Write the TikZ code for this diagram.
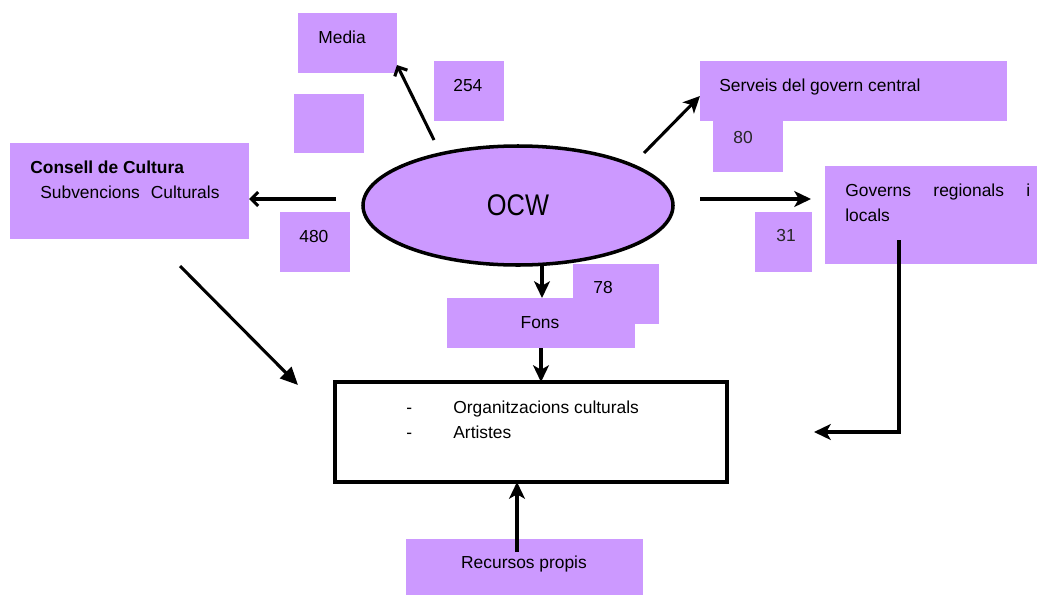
\documentclass[tikz,border=0pt]{standalone}
\usepackage{fontspec}
\setmainfont{Liberation Sans}
\usetikzlibrary{shapes.geometric,arrows.meta,calc}
\definecolor{boxc}{RGB}{204,153,255}
\newcommand\pbx[5]{\node[pbox, minimum width=#4*0.02cm, minimum height=#5*0.02cm] (#1) at (#2,#3) {};}
\begin{document}
\begin{tikzpicture}[x=0.02cm,y=-0.02cm,
  pbox/.style={fill=boxc, draw=none, inner sep=0, outer sep=0, anchor=north west},
  txt/.style={font=\fontsize{9.9}{12.5}\selectfont, inner sep=0, anchor=base west},
  numtxt/.style={txt, text=black!85},
  conn/.style={line width=1.75pt},
  tipopen/.style={-{Straight Barb[length=4pt,width=8pt]}},
  tipfill/.style={-{Stealth[length=9.5pt,width=9pt,inset=2.5pt]}},
  tiptri/.style={-{Triangle[length=10pt,width=9pt]}}]
\useasboundingbox (0,0) rectangle (1037,595);
% purple boxes
\pbx{media}{298}{13}{99}{60}
\pbx{n254}{434}{61}{70}{60}
\pbx{blank}{294}{94}{70}{59}
\pbx{consell}{10}{143}{239}{96}
\pbx{n480}{280}{212}{70}{60}
\pbx{serveis}{700}{61}{307}{60}
\pbx{n80}{713}{121}{70}{51}
\pbx{governs}{825}{166}{212}{98}
\pbx{n31}{755}{212}{57}{60}
\pbx{n78}{573}{264}{86}{60}
\pbx{fons}{447}{298}{188}{50}
\pbx{recursos}{406}{539}{237}{56}
% OCW ellipse
\node[ellipse, draw, line width=2pt, fill=boxc, inner sep=0,
  minimum width=310*0.02cm, minimum height=119*0.02cm] (ocw) at (518,205.5) {};
% main box
\node[draw, line width=1.9pt, fill=white, inner sep=0, outer sep=0, anchor=north west,
  minimum width=392*0.02cm, minimum height=100*0.02cm] (main) at (335,382) {};
% texts
\node[txt] (tmedia) at (318,43) {Media};
\node[txt] (t254) at (453,91) {254};
\node[txt, font=\fontsize{9.9}{12.5}\selectfont\bfseries] (tcons1) at (30,173) {Consell de Cultura};
\node[txt] (tcons2) at (40,198) {Subvencions\hspace{0.35em} Culturals};
\node[txt] (t480) at (299,242) {480};
\node[inner sep=0, anchor=base, font=\fontsize{17}{20}\selectfont] (tocw) at (518,215) {\scalebox{0.85}[1]{OCW}};
\node[txt] (tserv) at (719,91) {Serveis del govern central};
\node[numtxt] (t80) at (733,143) {80};
\node[txt] (tgov1) at (845,196) {\makebox[3.7cm][s]{Governs regionals i}};
\node[txt] (tgov2) at (845,221) {locals};
\node[numtxt] (t31) at (776,241) {31};
\node[txt] (t78) at (593,293) {78};
\node[txt, anchor=base] (tfons) at (540,328) {Fons};
\node[txt] (dash1) at (406,413) {-};
\node[txt] (torg) at (453,413) {Organitzacions culturals};
\node[txt] (dash2) at (406,438) {-};
\node[txt] (tart) at (453,438) {Artistes};
\node[txt, anchor=base] (trec) at (524,568) {Recursos propis};
% connectors
\coordinate (mstart) at (434,140);
\draw[conn,tipopen] (mstart) -- ([yshift=0.16cm]media.south east);
\coordinate (cstart) at (336,199);
\draw[conn,tipopen] (cstart) -- (cstart -| consell.east);
\coordinate (sstart) at (644,153);
\draw[conn,tipfill] (sstart) -- ([yshift=-0.1cm]serveis.west);
\coordinate (gstart) at (700,199);
\draw[conn,tipfill] (gstart) -- ($(gstart -| governs.west)+(-14,0)$);
\coordinate (fstart) at (542,265);
\draw[conn,tipfill] (fstart) -- (fstart |- fons.north);
\draw[conn,tipfill] (fons.south) -- (fons.south |- main.north);
\coordinate (dstart) at (180,266);
\draw[conn,tiptri] (dstart) -- ($(main.north west)+(-37,3)$);
\coordinate (rstart) at (899,240);
\draw[conn,tipfill] (rstart) |- ($(main.east)+(87,0)$);
\coordinate (ustart) at (517,552);
\draw[conn,tipfill] (ustart) -- (ustart |- main.south);
\end{tikzpicture}
\end{document}
